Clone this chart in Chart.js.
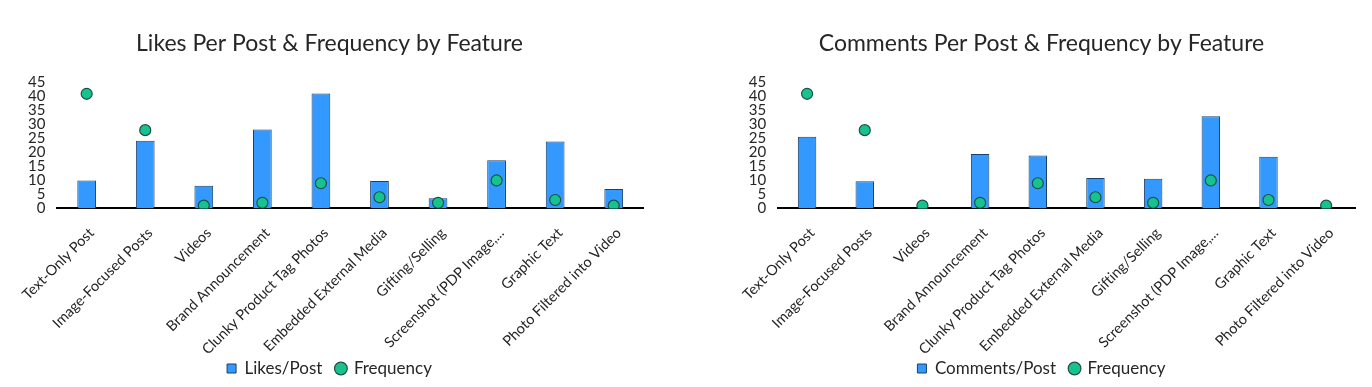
<!DOCTYPE html>
<html>
<head>
<meta charset="utf-8">
<script src="https://cdn.jsdelivr.net/npm/chart.js@4/dist/chart.umd.min.js"></script>
<style>
  html,body{margin:0;padding:0;background:#fff;width:1372px;height:387px;overflow:hidden;}
  .box{position:absolute;top:0;height:387px;}
  #b1{left:0;width:670px;}
  #b2{left:722px;width:650px;}
</style>
</head>
<body>
<div class="box" id="b1"><canvas id="c1"></canvas></div>
<div class="box" id="b2"><canvas id="c2"></canvas></div>
<script>
const categories = ["Text-Only Post","Image-Focused Posts","Videos","Brand Announcement","Clunky Product Tag Photos","Embedded External Media","Gifting/Selling","Screenshot (PDP Image,...","Graphic Text","Photo Filtered into Video"];
const likesPerPost = [10, 24.2, 8.1, 28.2, 41.1, 9.8, 3.6, 17.2, 23.9, 6.9];
const commentsPerPost = [25.6, 9.7, 0, 19.5, 18.9, 10.9, 10.6, 33, 18.5, 0];
const frequency = [41, 28, 1, 2, 9, 4, 2, 10, 3, 1];
const yTicks = [0,5,10,15,20,25,30,35,40,45];

const FONT = "Lato, 'Liberation Sans', sans-serif";
const TXT = '#262626';

// let the rotated x labels draw below the (shortened) x-scale box without clipping
const unclipX = {
  id: 'unclipX',
  afterLayout(chart) { chart.scales.x.bottom = chart.height; }
};

function makeChart(id, title, barLabel, barData, padLeft, padRight) {
  return new Chart(document.getElementById(id), {
    data: {
      labels: categories,
      datasets: [
        {
          type: 'line', label: 'Frequency', data: frequency, showLine: false,
          pointRadius: 5.5, pointHoverRadius: 5.5, pointStyle: 'circle',
          backgroundColor: '#17C28E', borderColor: '#1E4F45', borderWidth: 1.2,
          order: 0
        },
        {
          type: 'bar', label: barLabel, data: barData,
          backgroundColor: '#3399FF', borderColor: '#1F3F66', borderWidth: 1,
          barPercentage: 0.64, categoryPercentage: 0.5, pointStyle: 'rect',
          order: 1
        }
      ]
    },
    plugins: [unclipX],
    options: {
      responsive: true, maintainAspectRatio: false, animation: false,
      layout: { padding: { left: padLeft, right: padRight, top: 0, bottom: 0 } },
      plugins: {
        title: { display: true, text: title, color: TXT,
          font: { family: FONT, size: 23, weight: 'normal' },
          padding: { top: 30, bottom: 25 } },
        legend: { position: 'bottom', reverse: true,
          labels: { usePointStyle: true, color: TXT, boxWidth: 9, boxHeight: 9,
            font: { family: FONT, size: 17 }, padding: 14 } },
        tooltip: { enabled: false }
      },
      scales: {
        x: {
          grid: { display: false, drawTicks: false },
          border: { display: true, color: '#000', width: 2 },
          ticks: { color: TXT, font: { family: FONT, size: 14.5 }, maxRotation: 45, minRotation: 45, autoSkip: false, padding: 16, labelOffset: 5 },
          afterFit: (s) => { s.height = s.height - 28; }
        },
        y: {
          min: 0, max: 45,
          afterBuildTicks: (s) => { s.ticks = yTicks.map(v => ({ value: v })); },
          grid: { display: false, drawTicks: false },
          border: { display: false },
          ticks: { color: TXT, font: { family: FONT, size: 15 }, autoSkip: false, padding: 12 }
        }
      }
    }
  });
}

makeChart('c1', 'Likes Per Post & Frequency by Feature', 'Likes/Post', likesPerPost, 16, 27);
makeChart('c2', 'Comments Per Post & Frequency by Feature', 'Comments/Post', commentsPerPost, 6, 17);
</script>
</body>
</html>
